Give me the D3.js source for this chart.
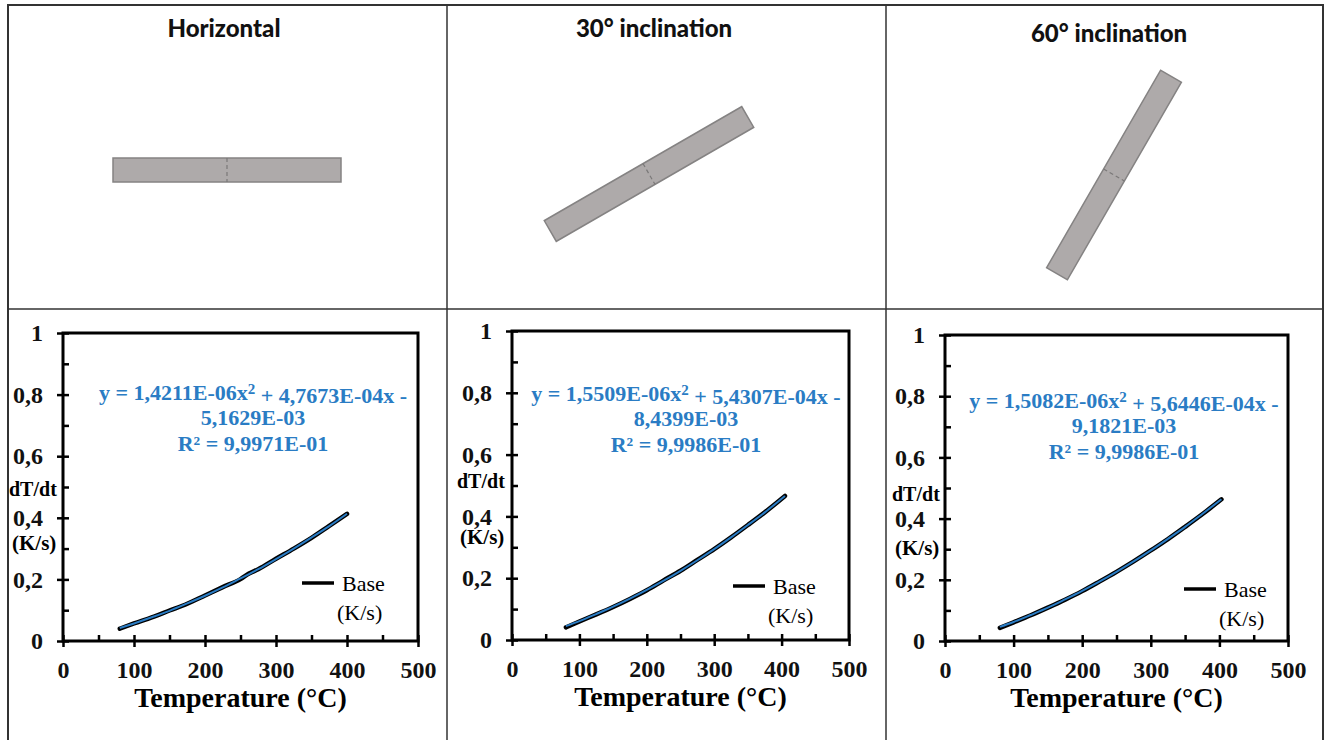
<!DOCTYPE html>
<html>
<head>
<meta charset="utf-8">
<script src="https://cdn.jsdelivr.net/npm/d3@7"></script>
<style>
  body { margin: 0; background: #fff; }
  svg { display: block; }
  .tick text { font-family: "Liberation Serif", "Times New Roman", serif; font-weight: bold; fill: #111; }
</style>
</head>
<body>
<svg id="fig" width="1330" height="740"></svg>
<script>
// ---- data ----
const titles = ["Horizontal", "30° inclination", "60° inclination"]
const inclinations = [0, 30, 60]

const xTicks = [0, 100, 200, 300, 400, 500]
const yTicks = [0, 0.2, 0.4, 0.6, 0.8, 1]

const tempsHorizontal = [80, 100, 125, 150, 175, 200, 225, 250, 262, 275, 300, 325, 350, 375, 400]
const baseHorizontal  = [0.040, 0.057, 0.077, 0.099, 0.121, 0.148, 0.175, 0.201, 0.219, 0.233, 0.267, 0.300, 0.335, 0.374, 0.413]
const fitHorizontal   = [0.042, 0.057, 0.077, 0.098, 0.122, 0.147, 0.174, 0.203, 0.217, 0.233, 0.266, 0.300, 0.336, 0.373, 0.413]

const tempsIncl30 = [80, 100, 125, 150, 175, 200, 225, 250, 275, 300, 325, 350, 375, 405]
const baseIncl30  = [0.041, 0.060, 0.083, 0.107, 0.133, 0.161, 0.193, 0.224, 0.259, 0.294, 0.332, 0.372, 0.413, 0.466]
const fitIncl30   = [0.045, 0.061, 0.084, 0.108, 0.134, 0.162, 0.192, 0.224, 0.258, 0.294, 0.332, 0.372, 0.413, 0.466]

const tempsIncl60 = [80, 100, 125, 150, 175, 200, 225, 250, 275, 300, 325, 350, 375, 403]
const baseIncl60  = [0.043, 0.061, 0.084, 0.109, 0.135, 0.163, 0.194, 0.226, 0.260, 0.296, 0.333, 0.373, 0.414, 0.463]
const fitIncl60   = [0.046, 0.062, 0.085, 0.109, 0.136, 0.164, 0.194, 0.226, 0.260, 0.296, 0.334, 0.373, 0.415, 0.463]

const equations = [
  ["y = 1,4211E-06x", "2", " + 4,7673E-04x -", "5,1629E-03", "R² = 9,9971E-01"],
  ["y = 1,5509E-06x", "2", " + 5,4307E-04x -", "8,4399E-03", "R² = 9,9986E-01"],
  ["y = 1,5082E-06x", "2", " + 5,6446E-04x -", "9,1821E-03", "R² = 9,9986E-01"]
]
const legendLabel = ["Base", "(K/s)"]

// ---- layout of the three columns ----
const layouts = [
  { plot: { left: 63, right: 418, top: 333, bottom: 641 }, plate: [227, 170], title: [224, 28],
    eq: [253, 392], legend: [302, 583], yTitle: [9, 489, 12, 543] },
  { plot: { left: 512, right: 849, top: 331, bottom: 640 }, plate: [649, 174], title: [654, 28],
    eq: [686, 393], legend: [733, 586], yTitle: [457, 481, 460, 537] },
  { plot: { left: 945, right: 1288, top: 335, bottom: 641 }, plate: [1114, 175], title: [1109, 33],
    eq: [1124, 400], legend: [1184, 589], yTitle: [892, 494, 895, 548] }
]

const series = [
  { temps: tempsHorizontal, base: baseHorizontal, fit: fitHorizontal },
  { temps: tempsIncl30, base: baseIncl30, fit: fitIncl30 },
  { temps: tempsIncl60, base: baseIncl60, fit: fitIncl60 }
]

const serif = '"Liberation Serif", "Times New Roman", serif'
const blue = "#2a7cc4"
const svg = d3.select("#fig")

// ---- table grid ----
const grid = svg.append("g").attr("stroke", "#333").attr("fill", "none")
grid.append("rect").attr("x", 8).attr("y", 5).attr("width", 1315).attr("height", 760).attr("stroke-width", 2)
grid.append("line").attr("x1", 8).attr("x2", 1323).attr("y1", 309).attr("y2", 309).attr("stroke-width", 1.5)
;[447, 886].forEach(x => grid.append("line").attr("x1", x).attr("x2", x).attr("y1", 5).attr("y2", 740).attr("stroke-width", 1.5))

function fmtY(d) {
  return (d === 0 || d === 1) ? String(d) : d.toFixed(1).replace(".", ",")
}

class Panel {
  constructor(i) {
    this.i = i
    this.lay = layouts[i]
    this.data = series[i]
    const p = this.lay.plot
    this.x = d3.scaleLinear().domain([0, 500]).range([p.left, p.right])
    this.y = d3.scaleLinear().domain([0, 1]).range([p.bottom, p.top])
    this.g = svg.append("g")
  }

  renderTop() {
    const [cx, cy] = this.lay.title
    this.g.append("text")
      .attr("x", cx).attr("y", cy).attr("dy", "0.36em")
      .attr("text-anchor", "middle")
      .attr("font-family", "Lato, 'Open Sans', sans-serif")
      .attr("font-weight", 900)
      .attr("font-size", 24)
      .attr("fill", "#111")
      .text(titles[this.i])

    // the plate, rotated by its inclination
    const [px, py] = this.lay.plate
    const plate = this.g.append("g")
      .attr("transform", `translate(${px},${py}) rotate(${-inclinations[this.i]})`)
    plate.append("rect")
      .attr("x", -114).attr("y", -12).attr("width", 228).attr("height", 24)
      .attr("fill", "#aeaaaa").attr("stroke", "#858383").attr("stroke-width", 1.5)
    plate.append("line")
      .attr("x1", 0).attr("x2", 0).attr("y1", -12).attr("y2", 12)
      .attr("stroke", "#7a7878").attr("stroke-width", 1.2).attr("stroke-dasharray", "4,3")
  }

  renderChart() {
    const p = this.lay.plot
    const x = this.x, y = this.y

    // minor (inside) ticks
    this.g.append("g")
      .attr("transform", `translate(${p.left},0)`)
      .call(d3.axisLeft(y).tickValues(d3.range(0, 1.01, 0.1)).tickSize(-6).tickFormat(""))
      .call(a => a.select(".domain").remove())
    this.g.append("g")
      .attr("transform", `translate(0,${p.bottom})`)
      .call(d3.axisBottom(x).tickValues(d3.range(0, 501, 50)).tickSize(-6).tickFormat(""))
      .call(a => a.select(".domain").remove())

    // major (outside) ticks with labels
    this.g.append("g")
      .attr("transform", `translate(${p.left},0)`)
      .call(d3.axisLeft(y).tickValues(yTicks).tickSize(6).tickPadding(14).tickFormat(fmtY))
      .call(a => a.select(".domain").remove())
      .call(a => a.selectAll("text").attr("font-size", 24))
    this.g.append("g")
      .attr("transform", `translate(0,${p.bottom})`)
      .call(d3.axisBottom(x).tickValues(xTicks).tickSize(6).tickPadding(14))
      .call(a => a.select(".domain").remove())
      .call(a => a.selectAll("text").attr("font-size", 24))

    this.g.selectAll(".tick line").attr("stroke", "#000").attr("stroke-width", 2.5)

    // frame
    this.g.append("rect")
      .attr("x", p.left).attr("y", p.top)
      .attr("width", p.right - p.left).attr("height", p.bottom - p.top)
      .attr("fill", "none").attr("stroke", "#000").attr("stroke-width", 3)

    // curves
    const pts = (vals) => this.data.temps.map((t, k) => [t, vals[k]])
    const line = d3.line().x(d => x(d[0])).y(d => y(d[1])).curve(d3.curveMonotoneX)
    this.g.append("path").attr("d", line(pts(this.data.base)))
      .attr("fill", "none").attr("stroke", "#000").attr("stroke-width", 4.5).attr("stroke-linecap", "round")
    this.g.append("path").attr("d", line(pts(this.data.fit)))
      .attr("fill", "none").attr("stroke", blue).attr("stroke-width", 2)

    // trendline equation
    const eq = equations[this.i]
    const [ex, ey] = this.lay.eq
    const t = this.g.append("text")
      .attr("text-anchor", "middle")
      .attr("font-family", serif).attr("font-weight", "bold").attr("font-size", 22)
      .attr("fill", blue)
    const l1 = t.append("tspan").attr("x", ex).attr("y", ey).attr("dy", "0.35em")
    l1.append("tspan").text(eq[0])
    l1.append("tspan").attr("dy", "-0.4em").attr("font-size", 15).text(eq[1])
    l1.append("tspan").attr("dy", "0.4em").text(eq[2])
    t.append("tspan").attr("x", ex).attr("y", ey + 25).attr("dy", "0.35em").text(eq[3])
    t.append("tspan").attr("x", ex).attr("y", ey + 51).attr("dy", "0.35em").text(eq[4])

    // axis titles
    const [tx1, ty1, tx2, ty2] = this.lay.yTitle
    this.g.append("text").attr("x", tx1).attr("y", ty1).attr("dy", "0.35em")
      .attr("font-family", serif).attr("font-weight", "bold").attr("font-size", 20).text("dT/dt")
    this.g.append("text").attr("x", tx2).attr("y", ty2).attr("dy", "0.35em")
      .attr("font-family", serif).attr("font-weight", "bold").attr("font-size", 21).text("(K/s)")
    this.g.append("text")
      .attr("x", (p.left + p.right) / 2).attr("y", p.bottom + 56).attr("dy", "0.35em")
      .attr("text-anchor", "middle")
      .attr("font-family", serif).attr("font-weight", "bold").attr("font-size", 28)
      .text("Temperature (°C)")

    // legend
    const [lx, ly] = this.lay.legend
    this.g.append("line").attr("x1", lx).attr("x2", lx + 32).attr("y1", ly).attr("y2", ly)
      .attr("stroke", "#000").attr("stroke-width", 3.5)
    this.g.append("text").attr("x", lx + 40).attr("y", ly).attr("dy", "0.35em")
      .attr("font-family", serif).attr("font-size", 22).text(legendLabel[0])
    this.g.append("text").attr("x", lx + 35).attr("y", ly + 29).attr("dy", "0.35em")
      .attr("font-family", serif).attr("font-size", 22).text(legendLabel[1])
  }
}

titles.forEach((_, i) => {
  const panel = new Panel(i)
  panel.renderTop()
  panel.renderChart()
})
</script>
</body>
</html>
